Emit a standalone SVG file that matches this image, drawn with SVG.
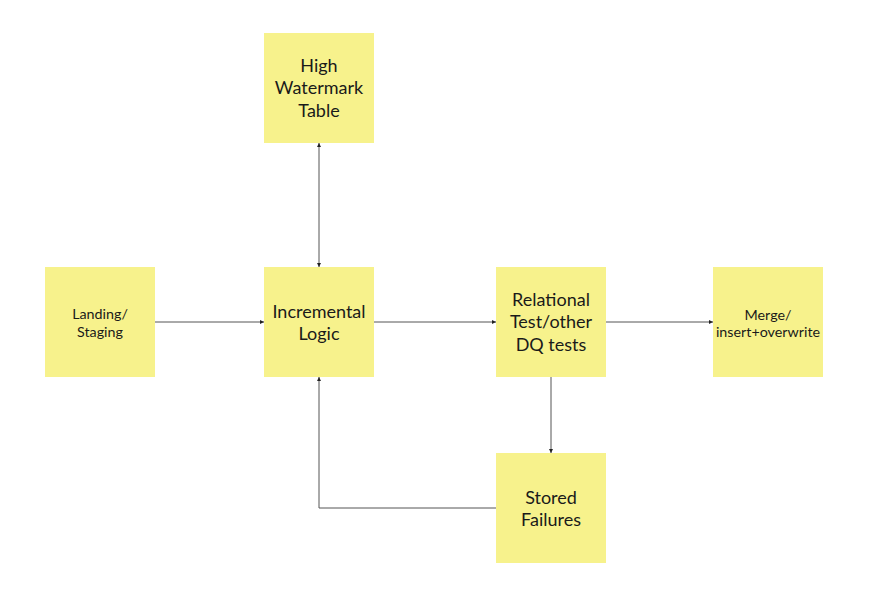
<svg xmlns="http://www.w3.org/2000/svg" width="874" height="609" viewBox="0 0 874 609">
<style>
.box{fill:#f7f28c}
.t{font-family:Lato,"Liberation Sans",sans-serif;fill:#1a1a1a;text-anchor:middle}
.l{font-size:18px}
.s{font-size:14.3px}
.c{stroke:#555;stroke-width:1;fill:none}
</style>
<defs>
<marker id="ah" viewBox="0 0 6 6" refX="6" refY="3" markerWidth="4" markerHeight="4" orient="auto-start-reverse" markerUnits="userSpaceOnUse"><path d="M0,0 L6,3 L0,6 z" fill="#222"/></marker>
</defs>
<rect width="874" height="609" fill="#fff"/>
<g id="connectors">
<line class="c" x1="155" y1="322" x2="264" y2="322" marker-end="url(#ah)"/>
<line class="c" x1="319" y1="143" x2="319" y2="267" marker-start="url(#ah)" marker-end="url(#ah)"/>
<line class="c" x1="374" y1="322" x2="496" y2="322" marker-end="url(#ah)"/>
<line class="c" x1="606" y1="322" x2="713" y2="322" marker-end="url(#ah)"/>
<line class="c" x1="551" y1="377" x2="551" y2="453" marker-end="url(#ah)"/>
<polyline class="c" points="496,508 319,508 319,377" marker-end="url(#ah)"/>
</g>
<g id="hwm"><rect class="box" x="264" y="33" width="110" height="110"/>
<text class="t l" x="319" y="72">High</text><text class="t l" x="319" y="94">Watermark</text><text class="t l" x="319" y="117">Table</text></g>
<g id="landing"><rect class="box" x="45" y="267" width="110" height="110"/>
<text class="t s" x="100" y="319">Landing/</text><text class="t s" x="100" y="337">Staging</text></g>
<g id="incremental"><rect class="box" x="264" y="267" width="110" height="110"/>
<text class="t l" x="319" y="318">Incremental</text><text class="t l" x="319" y="340">Logic</text></g>
<g id="relational"><rect class="box" x="496" y="267" width="110" height="110"/>
<text class="t l" x="551" y="306">Relational</text><text class="t l" x="551" y="328">Test/other</text><text class="t l" x="551" y="351">DQ tests</text></g>
<g id="merge"><rect class="box" x="713" y="267" width="110" height="110"/>
<text class="t s" x="768" y="320">Merge/</text><text class="t s" x="768" y="337">insert+overwrite</text></g>
<g id="stored"><rect class="box" x="496" y="453" width="110" height="110"/>
<text class="t l" x="551" y="504">Stored</text><text class="t l" x="551" y="526">Failures</text></g>
</svg>
